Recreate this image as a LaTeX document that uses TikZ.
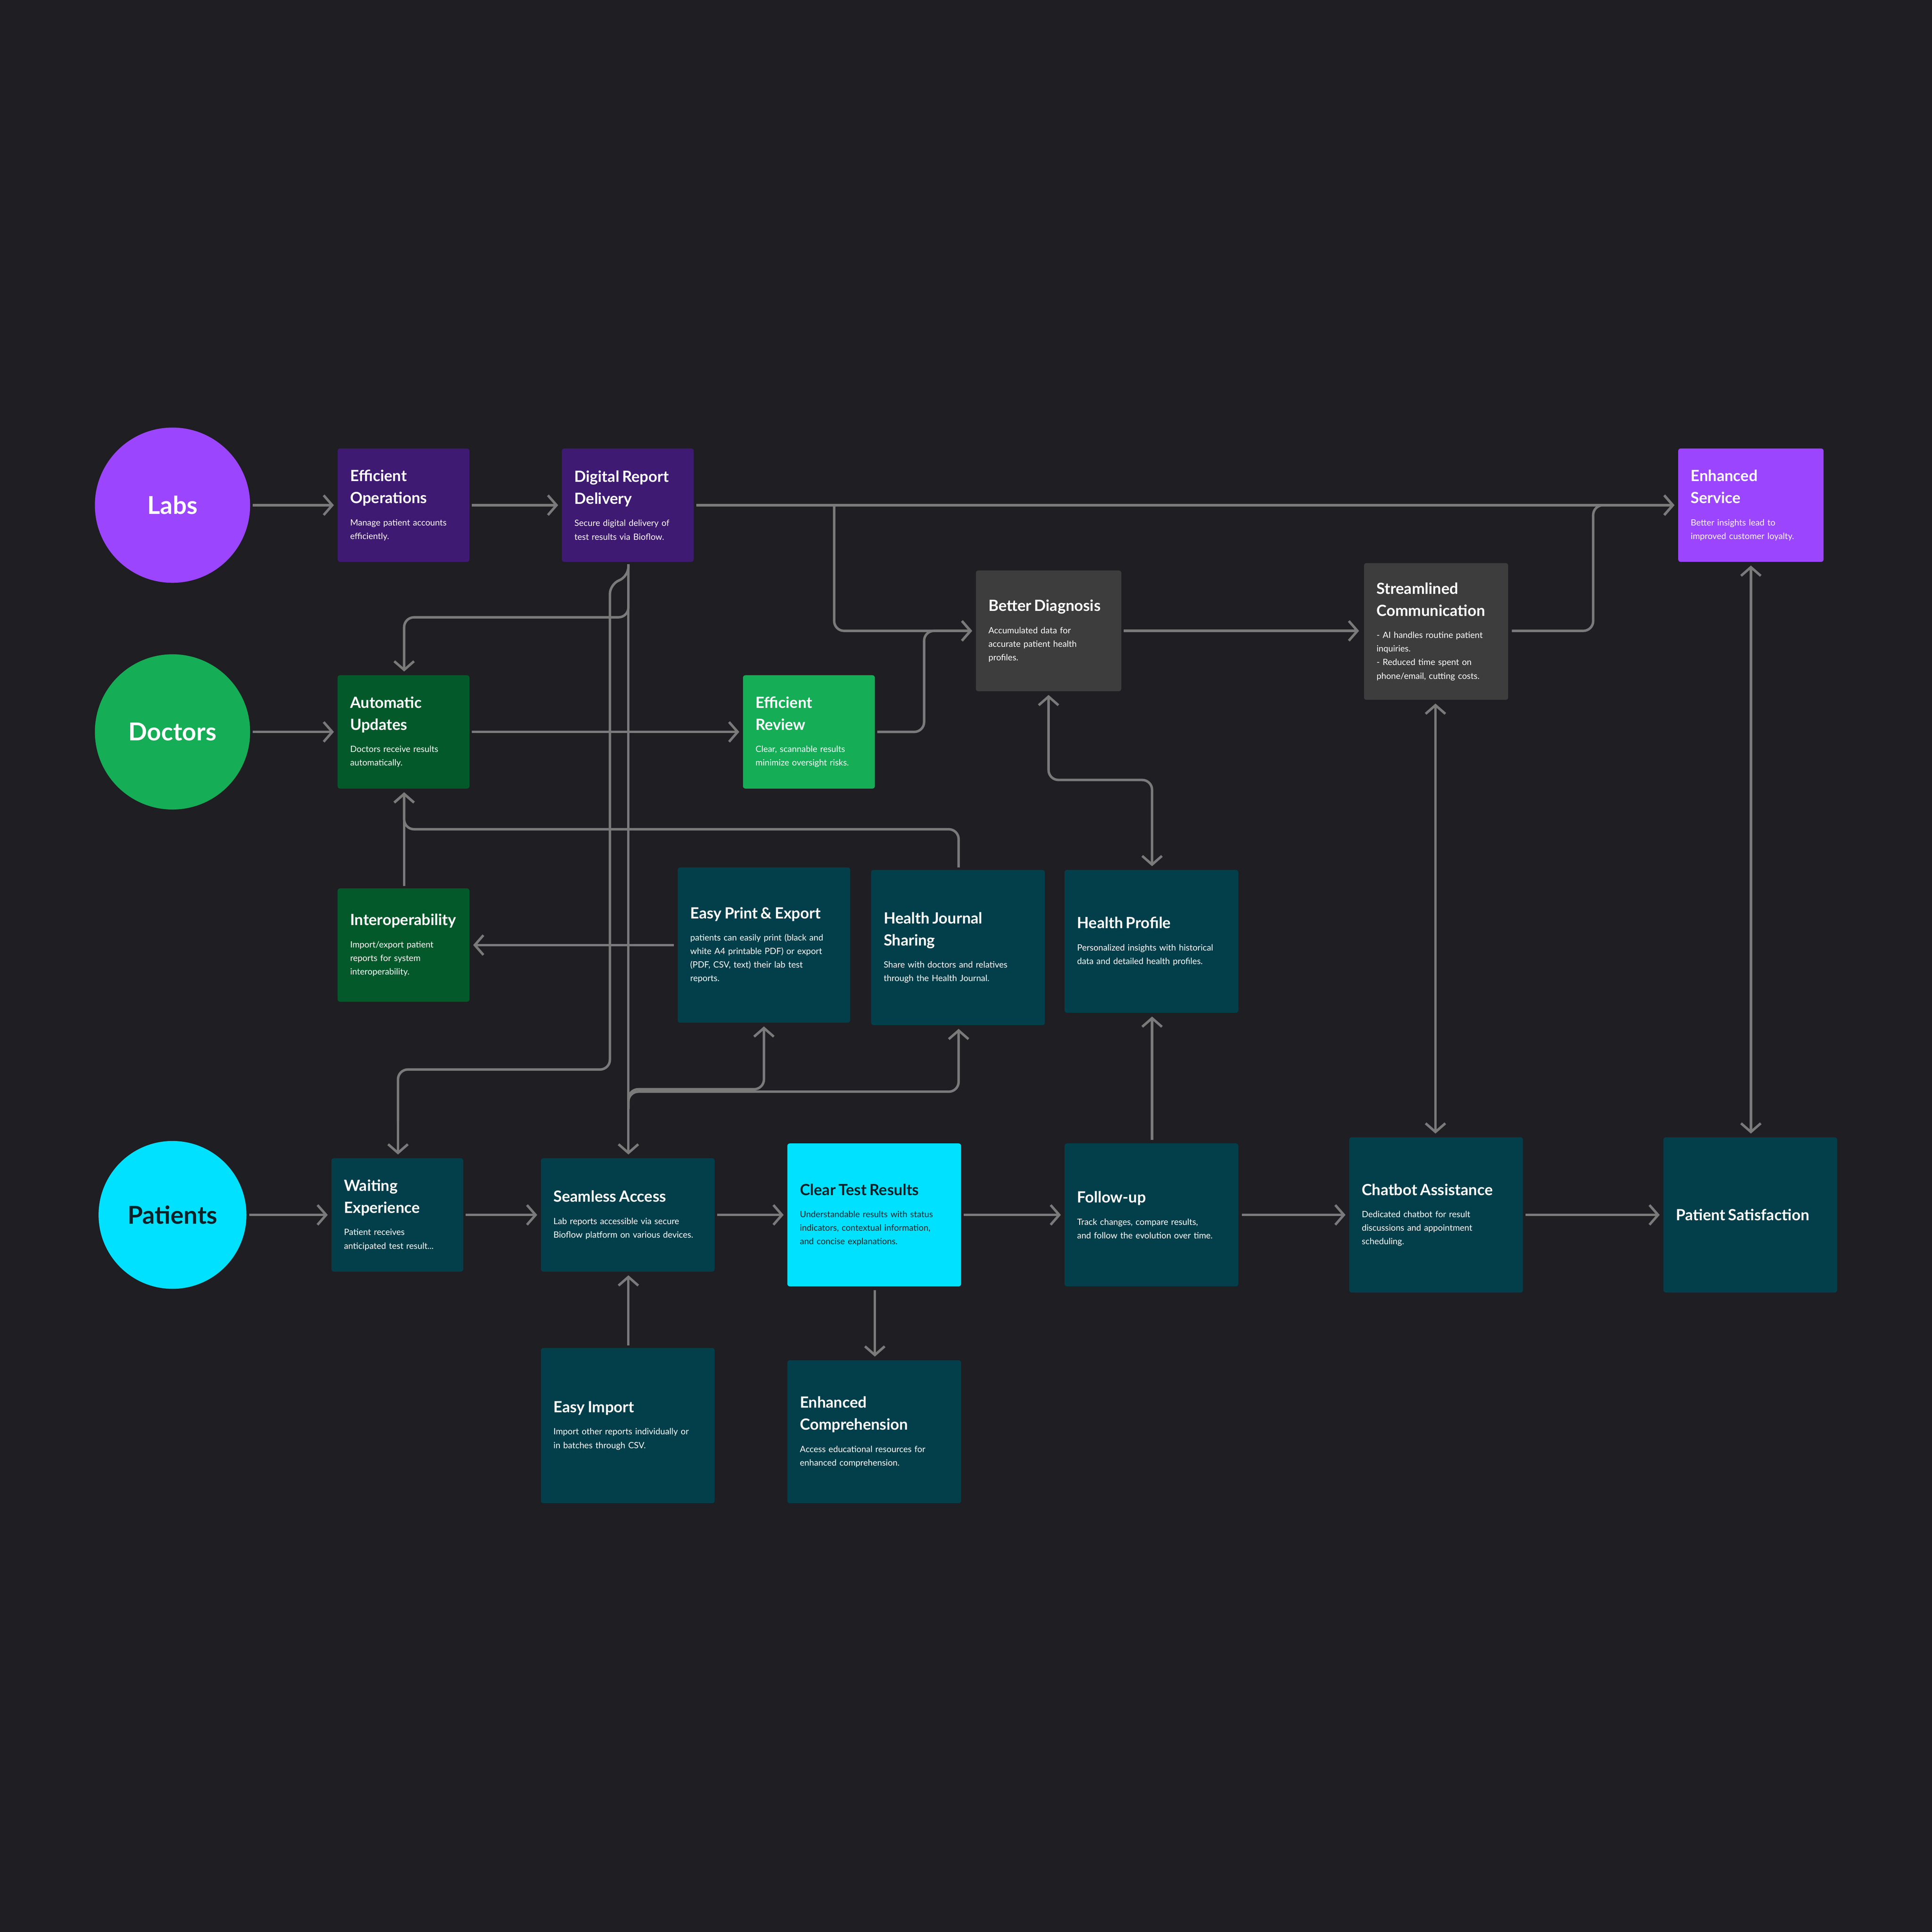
\documentclass[tikz,border=0pt]{standalone}
\usepackage{fontspec}
\setmainfont{Lato}
\usetikzlibrary{arrows.meta}
\definecolor{bg}{HTML}{1E1E23}
\definecolor{purp}{HTML}{3F1A72}
\definecolor{vio}{HTML}{9B45FF}
\definecolor{grayc}{HTML}{3D3D3D}
\definecolor{dgreen}{HTML}{04592A}
\definecolor{lgreen}{HTML}{15AD55}
\definecolor{teal}{HTML}{033F4A}
\definecolor{cyanc}{HTML}{00E1FF}
\definecolor{ink}{HTML}{0B2128}
\definecolor{wire}{HTML}{7A7A7A}
\newcommand{\card}[9]{%
  \fill[#6,rounded corners=2] (#2,#3) rectangle (#4,#5);
  \coordinate (#1-nw) at (#2,#3);
  \node[anchor=west,inner sep=0,text width={(#4-#2-20)*1pt},align=left,text=#7,font=\fontsize{7}{11}\selectfont]
    (#1) at ({#2+10},{(#3+#5)/2}) {{\fontsize{12.5}{18}\selectfont\bfseries #8\par}\ifx&#9&\else\vspace{7pt}#9\fi};
}
\tikzset{
  wireline/.style={draw=wire,line width=2pt,rounded corners=8,-{Straight Barb[length=7pt,width=16pt,line width=2pt]}},
  both/.style={wireline,{Straight Barb[length=7pt,width=16pt,line width=2pt]}-{Straight Barb[length=7pt,width=16pt,line width=2pt]}},
  plain/.style={draw=wire,line width=2pt,rounded corners=8},
  circ/.style={circle,minimum size=126pt,inner sep=0,font=\fontsize{20}{24}\selectfont\bfseries}
}
\begin{document}
\begin{tikzpicture}[x=1pt,y=-1pt]
\fill[bg] (0,0) rectangle (1568,1568);
\useasboundingbox (0,0) rectangle (1568,1568);
\node[circ,fill=vio,text=white] (labs) at (140,410) {Labs};
\node[circ,fill=lgreen,text=white] (doctors) at (140,594) {Doctors};
\node[circ,fill=cyanc,text=ink,minimum size=120pt] (patients) at (140,986) {Patients};

\card{eo}{274}{364}{381}{456}{purp}{white}{Efficient\\Operations}{Manage patient accounts\\efficiently.}
\card{dr}{456}{364}{563}{456}{purp}{white}{Digital Report\\Delivery}{Secure digital delivery of\\test results via Bioflow.}
\card{es}{1362}{364}{1480}{456}{vio}{white}{Enhanced\\Service}{Better insights lead to\\improved customer loyalty.}
\card{bd}{792}{463}{910}{561}{grayc}{white}{Better Diagnosis}{Accumulated data for\\accurate patient health\\profiles.}
\card{sc}{1107}{457}{1224}{568}{grayc}{white}{Streamlined\\Communication}{- AI handles routine patient\\inquiries.\\- Reduced time spent on\\phone/email, cutting costs.}
\card{au}{274}{548}{381}{640}{dgreen}{white}{Automatic\\Updates}{Doctors receive results\\automatically.}
\card{er}{603}{548}{710}{640}{lgreen}{white}{Efficient\\Review}{Clear, scannable results\\minimize oversight risks.}
\card{io}{274}{721}{381}{813}{dgreen}{white}{Interoperability}{Import/export patient\\reports for system\\interoperability.}
\card{ep}{550}{704}{690}{830}{teal}{white}{Easy Print \& Export}{patients can easily print (black and\\white A4 printable PDF) or export\\(PDF, CSV, text) their lab test\\reports.}
\card{hj}{707}{706}{848}{832}{teal}{white}{Health Journal\\Sharing}{Share with doctors and relatives\\through the Health Journal.}
\card{hp}{864}{706}{1005}{822}{teal}{white}{Health Profile}{Personalized insights with historical\\data and detailed health profiles.}
\card{we}{269}{940}{376}{1032}{teal}{white}{Waiting\\Experience}{Patient receives\\anticipated test result...}
\card{sa}{439}{940}{580}{1032}{teal}{white}{Seamless Access}{Lab reports accessible via secure\\Bioflow platform on various devices.}
\card{ct}{639}{928}{780}{1044}{cyanc}{ink}{Clear Test Results}{Understandable results with status\\indicators, contextual information,\\and concise explanations.}
\card{fu}{864}{928}{1005}{1044}{teal}{white}{Follow-up}{Track changes, compare results,\\and follow the evolution over time.}
\card{ca}{1095}{923}{1236}{1049}{teal}{white}{Chatbot Assistance}{Dedicated chatbot for result\\discussions and appointment\\scheduling.}
\card{ps}{1350}{923}{1491}{1049}{teal}{white}{Patient Satisfaction}{}
\card{ei}{439}{1094}{580}{1220}{teal}{white}{Easy Import}{Import other reports individually or\\in batches through CSV.}
\card{ec}{639}{1104}{780}{1220}{teal}{white}{Enhanced\\Comprehension}{Access educational resources for\\enhanced comprehension.}

% connectors
\draw[wireline] (labs.east)++(2,0) -- (271,410);
\draw[wireline] (383,410) -- (453,410);
\draw[wireline] (565,410) -- (1359,410);
\draw[wireline] (677,410) -- (677,512) -- (789,512);
\draw[wireline] (712,594) -- (750,594) -- (750,512) -- (789,512);
\draw[wireline] (912,512) -- (1103,512);
\draw[wireline] (1227,512) -- (1293,512) -- (1293,410) -- (1359,410);
\draw[wireline] (510,458) -- (510,501) -- (328,501) -- (328,545);
\draw[plain] (510,458) -- (510,468) -- (495,474) -- (495,868) -- (323,868) -- (323,910);
\draw[wireline] (323,905) -- (323,937);
\draw[wireline] (510,458) -- (510,937);
\draw[wireline] (doctors.east)++(2,0) -- (271,594);
\draw[wireline] (383,594) -- (600,594);
\draw[wireline] (328,719) -- (328,643);
\draw[wireline] (778,704) -- (778,673) -- (328,673) -- (328,643);
\draw[wireline] (547,767) -- (384,767);
\draw[wireline] (510,900) -- (510,884) -- (620,884) -- (620,833);
\draw[wireline] (510,900) -- (510,886) -- (778,886) -- (778,835);
\draw[wireline] (patients.east)++(2,0) -- (266,986);
\draw[wireline] (378,986) -- (436,986);
\draw[wireline] (582,986) -- (636,986);
\draw[wireline] (782,986) -- (861,986);
\draw[wireline] (1008,986) -- (1092,986);
\draw[wireline] (1238,986) -- (1347,986);
\draw[wireline] (510,1092) -- (510,1035);
\draw[wireline] (710,1047) -- (710,1101);
\draw[wireline] (935,925) -- (935,825);
\draw[both] (851,564) -- (851,633) -- (935,633) -- (935,703);
\draw[both] (1165,571) -- (1165,920);
\draw[both] (1421,459) -- (1421,920);
\end{tikzpicture}
\end{document}
